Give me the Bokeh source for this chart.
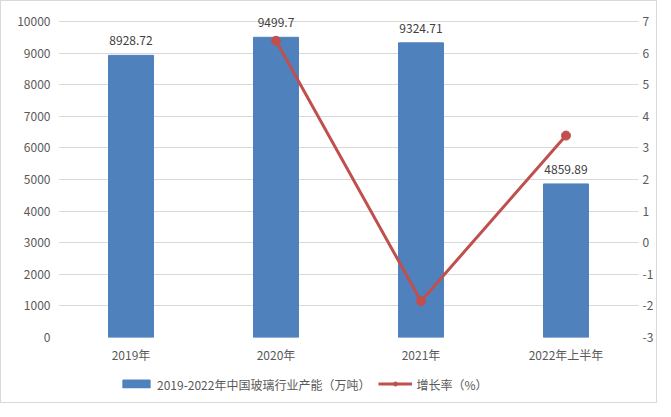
from bokeh.plotting import figure
from bokeh.layouts import column
from bokeh.models import (ColumnDataSource, Range1d, LinearAxis, FixedTicker,
                          Legend, LegendItem, FactorRange, CustomJSTickFormatter)
from bokeh.core.properties import value
from bokeh.embed import file_html
from bokeh.resources import INLINE

years = ["2019年", "2020年", "2021年", "2022年上半年"]
capacity = [8928.72, 9499.7, 9324.71, 4859.89]
capacity_labels = ["8928.72", "9499.7", "9324.71", "4859.89"]
growth = [float("nan"), 6.39, -1.85, 3.39]
left_ticks = [0, 1000, 2000, 3000, 4000, 5000, 6000, 7000, 8000, 9000, 10000]
right_ticks = [-3, -2, -1, 0, 1, 2, 3, 4, 5, 6, 7]
series_names = ["2019-2022年中国玻璃行业产能（万吨）", "增长率（%）"]

FONT = "Noto Sans CJK SC"
TXT = "#595959"
BLUE = "#4f81bd"
RED = "#c0504d"

src = ColumnDataSource(dict(x=years, cap=capacity, lab=capacity_labels, g=growth))

p = figure(x_range=FactorRange(factors=years, range_padding=0),
           y_range=Range1d(0, 10633),
           width=655, height=364, output_backend="svg", toolbar_location=None,
           min_border_left=57, min_border_right=18, min_border_top=0,
           min_border_bottom=28)
p.extra_y_ranges = {"rate": Range1d(-3, 7.633)}
p.outline_line_color = None

bars = p.vbar(x="x", top="cap", width=0.31, source=src,
              fill_color=BLUE, line_color=BLUE)
p.text(x="x", y="cap", text="lab", source=src, text_align="center",
       text_baseline="bottom", y_offset=-10, text_font=value(FONT),
       text_font_size="12px", text_color="#404040")

line = p.line(x="x", y="g", source=src, y_range_name="rate",
              line_color=RED, line_width=3)
dots = p.scatter(x="x", y="g", source=src, y_range_name="rate",
                 size=9, fill_color=RED, line_color=RED)

fmt = CustomJSTickFormatter(code="return String(tick);")
p.yaxis.ticker = FixedTicker(ticks=left_ticks)
right = LinearAxis(y_range_name="rate", ticker=FixedTicker(ticks=right_ticks),
                   formatter=fmt)
p.add_layout(right, "right")

for ax in p.yaxis + p.xaxis:
    ax.axis_line_color = None
    ax.major_tick_line_color = None
    ax.minor_tick_line_color = None
    ax.major_tick_out = 0
    ax.major_tick_in = 0
    ax.minor_tick_out = 0
    ax.major_label_text_font = FONT
    ax.major_label_text_font_size = "12px"
    ax.major_label_text_color = TXT
p.yaxis[0].major_label_standoff = 8
right.major_label_standoff = 4
p.xaxis.major_label_standoff = 8

p.xgrid.grid_line_color = None
p.ygrid.grid_line_color = "#d9d9d9"
p.ygrid.ticker = FixedTicker(ticks=left_ticks)

# legend strip: a small figure holding only the legend (glyph samples have no visible data)
nan = float("nan")
leg = figure(width=655, height=37, x_range=Range1d(0, 1), y_range=Range1d(0, 1),
             output_backend="svg", toolbar_location=None, min_border=0,
             min_border_left=0, min_border_right=0, min_border_top=0,
             min_border_bottom=0, x_axis_location=None, y_axis_location=None)
leg.grid.visible = False
leg.outline_line_color = None
lb = leg.vbar(x=[nan], top=[nan], width=0.1, fill_color=BLUE, line_color=BLUE)
ll = leg.line(x=[nan], y=[nan], line_color=RED, line_width=3)
ls = leg.scatter(x=[nan], y=[nan], size=9, fill_color=RED, line_color=RED)

legend = Legend(items=[
    LegendItem(label=series_names[0], renderers=[lb]),
    LegendItem(label=series_names[1], renderers=[ll, ls]),
], orientation="horizontal", location="center_left", border_line_color=None,
    background_fill_alpha=0, glyph_width=34, glyph_height=10,
    label_text_font=FONT, label_text_font_size="12px", label_text_color=TXT,
    spacing=8, label_standoff=4, padding=0, margin=61)
leg.add_layout(legend, "center")

layout = column(p, leg, spacing=0, styles={"border": "1px solid #d9d9d9"})
open("out.html", "w").write(file_html(layout, INLINE))
